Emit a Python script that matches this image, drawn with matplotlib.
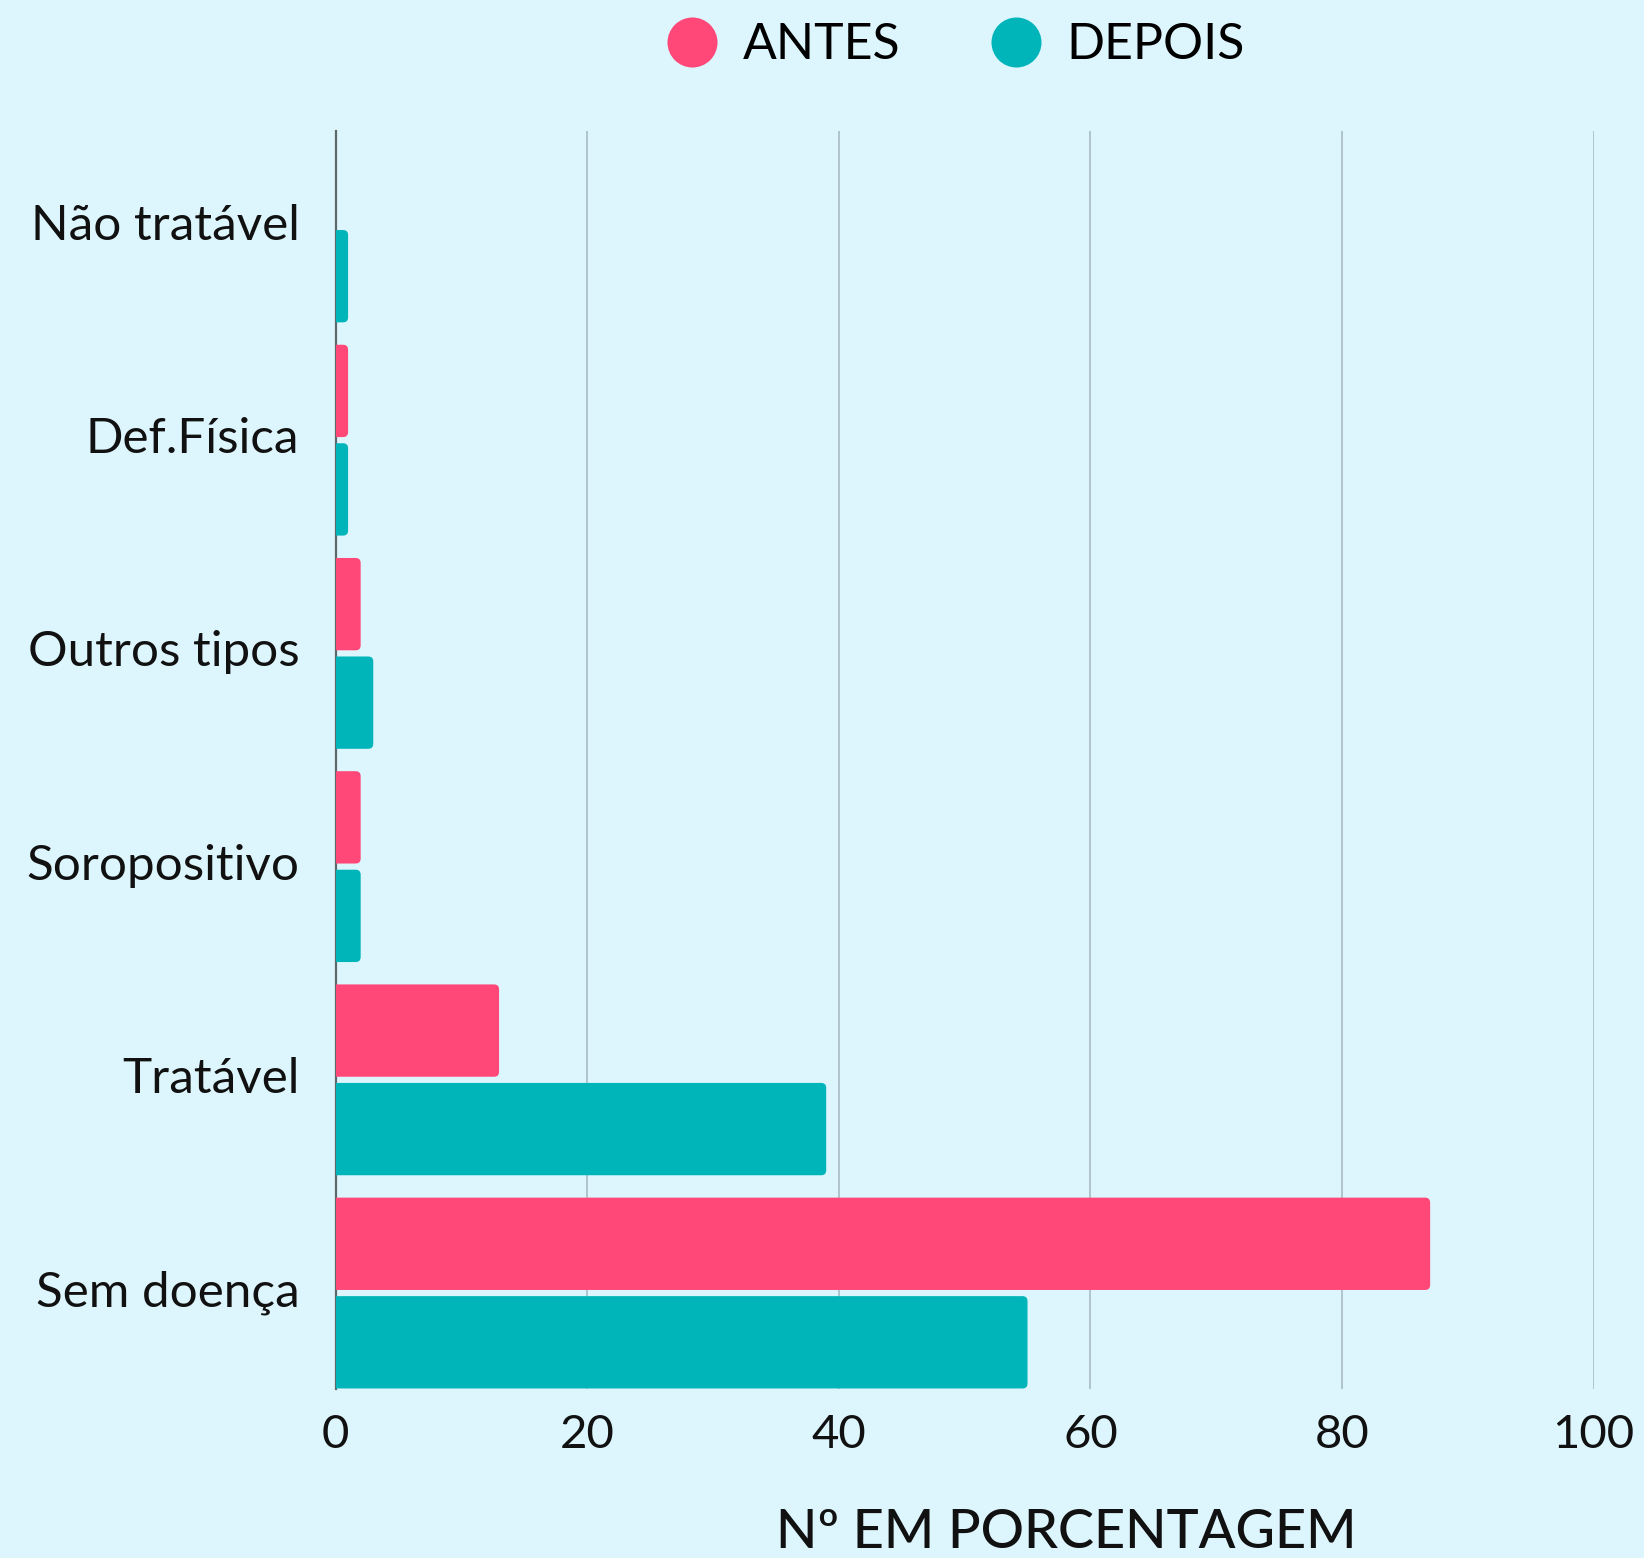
import matplotlib
matplotlib.use("Agg")
import matplotlib.pyplot as plt
from matplotlib.patches import FancyBboxPatch
from matplotlib.lines import Line2D
from matplotlib.transforms import ScaledTranslation
import numpy as np

categories = ["Não tratável", "Def.Física", "Outros tipos", "Soropositivo", "Tratável", "Sem doença"]
antes = [0, 1, 2, 2, 13, 87]
depois = [1, 1, 3, 2, 39, 55]
series_names = ["ANTES", "DEPOIS"]
xticks = [0, 20, 40, 60, 80, 100]
xlabel = "Nº EM PORCENTAGEM"

BG = "#ddf6fd"
PINK = "#ff4778"
TEAL = "#00b5ba"
FONT = ["Lato", "DejaVu Sans"]

plt.rcParams["font.family"] = FONT

W, H = 1644, 1558
fig = plt.figure(figsize=(W / 100, H / 100), dpi=100, facecolor=BG)
ax = fig.add_axes([335.5 / W, 1 - 1389 / H, (1593.7 - 335.5) / W, (1389 - 131) / H])
ax.set_facecolor(BG)

ax.set_xlim(0, 100)
ax.set_ylim(5.45, -0.45)

y = np.arange(len(categories))
bh = 0.433
off = 0.231

# pixel scales for rounding
px_x = (1593.7 - 335.5) / 100.0
px_y = (1389 - 131) / 5.9
r_px = 5.0
rsize = r_px / px_x
aspect = px_x / px_y


def draw(values, yc, color):
    bars = ax.barh(yc, values, height=bh, color=color, alpha=0)
    for b, v in zip(bars, values):
        if v <= 0:
            continue
        x0, y0 = b.get_x(), b.get_y()
        w, h = b.get_width(), b.get_height()
        ext = 1.0
        p = FancyBboxPatch((x0 - ext, y0), w + ext, h,
                           boxstyle=f"round,pad=0,rounding_size={rsize}",
                           mutation_aspect=aspect, facecolor=color,
                           edgecolor="none", zorder=3, clip_on=True)
        ax.add_patch(p)


draw(antes, y - off, PINK)
draw(depois, y + off, TEAL)

ax.set_xticks(xticks)
ax.set_xticklabels([str(t) for t in xticks], fontsize=34, color="#111111")
ax.set_yticks(y)
ax.set_yticklabels(categories, fontsize=35.6, color="#111111")
ax.tick_params(axis="x", length=0, pad=18)
ax.tick_params(axis="y", length=0, pad=26)
shift = ScaledTranslation(0, 5 / 100, fig.dpi_scale_trans)
for lab in ax.get_yticklabels():
    lab.set_transform(lab.get_transform() + shift)

ax.grid(axis="x", color="#a7bcc3", linewidth=1.2, zorder=0)
ax.grid(axis="y", visible=False)
ax.set_axisbelow(True)
for s in ["top", "right", "bottom"]:
    ax.spines[s].set_visible(False)
ax.spines["left"].set_color("#5d676a")
ax.spines["left"].set_linewidth(1.6)
ax.spines["left"].set_zorder(2)

handles = [Line2D([], [], marker="o", linestyle="none", markersize=36,
                  markerfacecolor=c, markeredgecolor="none")
           for c in (PINK, TEAL)]
fig.legend(handles, series_names, loc="center", bbox_to_anchor=(956 / W, 1 - 45 / H),
           ncol=2, frameon=False, fontsize=36, handlelength=1.0,
           handletextpad=0.52, columnspacing=1.8, borderpad=0, borderaxespad=0)

fig.text(776 / W, 1 / H, xlabel, fontsize=39, color="#111111", ha="left",
         va="bottom", fontweight="medium")

fig.savefig("out.png", dpi=100, facecolor=BG)
